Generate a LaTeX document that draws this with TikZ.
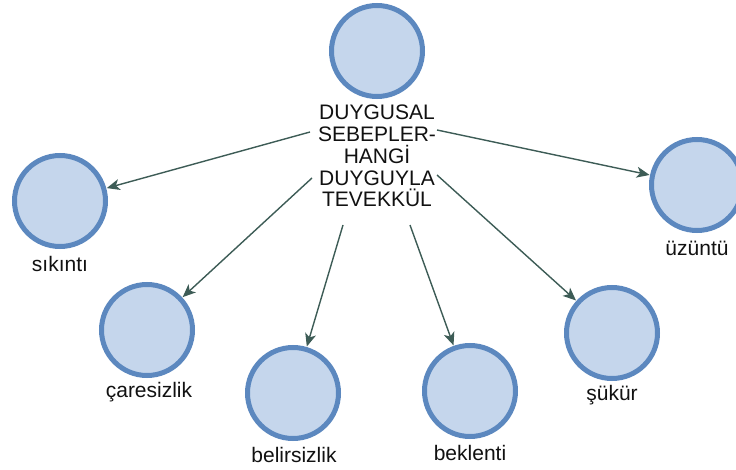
\documentclass[tikz,border=0pt]{standalone}
\usepackage{fontspec}
\setmainfont{Liberation Sans}
\usetikzlibrary{arrows.meta}
\definecolor{cfill}{HTML}{C5D6EC}
\definecolor{cline}{HTML}{5C88BF}
\definecolor{carrow}{HTML}{3D5C56}
\definecolor{ctext}{HTML}{111111}
\tikzset{
  circ/.style={circle, draw=cline, fill=cfill, line width=5pt, minimum size=91pt, inner sep=0pt},
  lbl/.style={inner sep=0pt, text=ctext, font=\fontsize{21pt}{22pt}\selectfont},
  maintxt/.style={inner sep=0pt, text=ctext, align=center, font=\fontsize{21pt}{21.8pt}\selectfont},
  conn/.style={draw=carrow, line width=1.4pt, -{Stealth[length=13pt,width=11pt,inset=3.5pt]}, shorten >=0.5pt}
}
\begin{document}
\begin{tikzpicture}[x=1pt,y=-1pt]
\useasboundingbox (0,0) rectangle (736,470);
% circles
\node[circ] (top) at (377,51) {};
\node[circ] (sik) at (60,201) {};
\node[circ] (uzu) at (697,185) {};
\node[circ] (car) at (147,330) {};
\node[circ] (bel) at (293,393) {};
\node[circ] (bek) at (470,391) {};
\node[circ] (suk) at (612,333) {};
% labels
\node[maintxt] (main) at (377,156) {DUYGUSAL\\SEBEPLER-\\HANG\.I\\DUYGUYLA\\TEVEKKÜL};
\node[lbl] (lsik) at (60,264) {sıkıntı};
\node[lbl] (luzu) at (697,248) {üzüntü};
\node[lbl] (lcar) at (149,392) {çaresizlik};
\node[lbl] (lbel) at (294,455) {belirsizlik};
\node[lbl] (lbek) at (470,453) {beklenti};
\node[lbl] (lsuk) at (612,395) {şükür};
% connector start points
\coordinate (ssik) at (310,132);
\coordinate (suzu) at (437,130);
\coordinate (scar) at (312,178);
\coordinate (sbel) at (343,225);
\coordinate (sbek) at (410,225);
\coordinate (ssuk) at (437,175);
% connectors
\draw[conn] (ssik) -- (sik);
\draw[conn] (suzu) -- (uzu);
\draw[conn] (scar) -- (car);
\draw[conn] (sbel) -- (bel);
\draw[conn] (sbek) -- (bek);
\draw[conn] (ssuk) -- (suk);
\end{tikzpicture}
\end{document}
